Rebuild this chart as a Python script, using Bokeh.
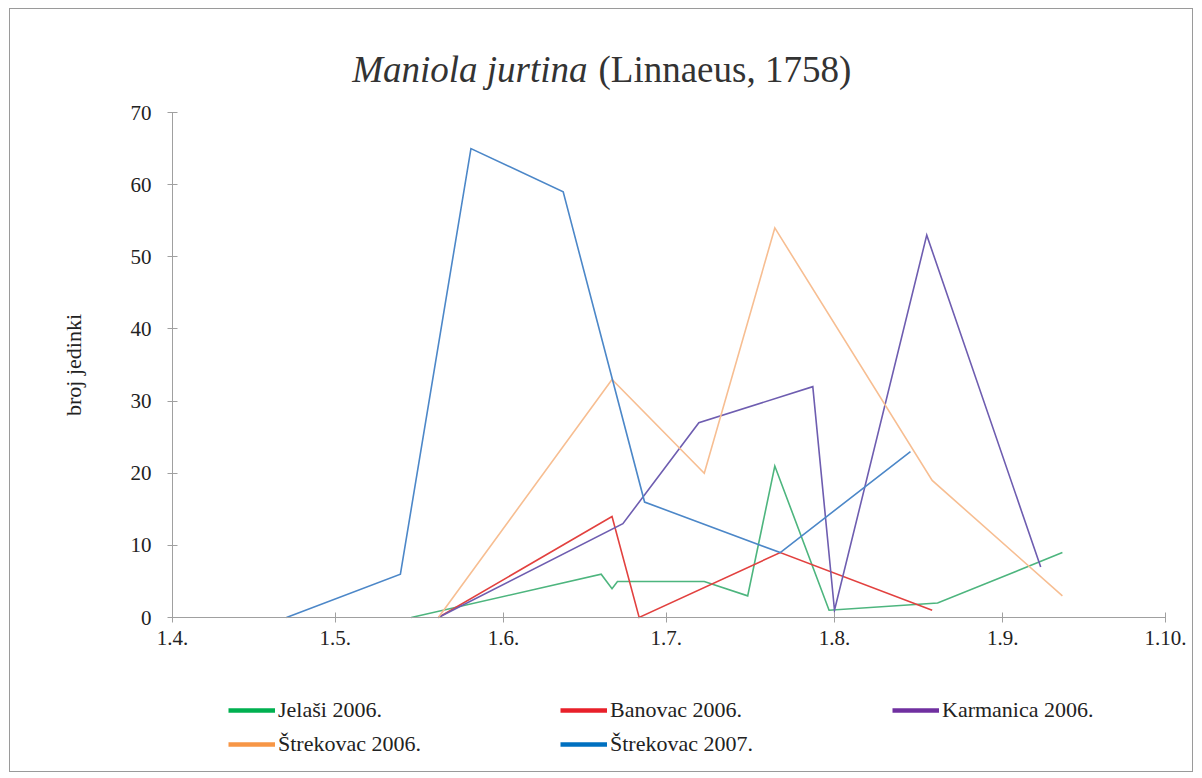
import pandas as pd
from bokeh.plotting import figure
from bokeh.models import (Range1d, FixedTicker, CustomJSTickFormatter, Legend,
                          LegendItem, Label)
from bokeh.embed import file_html
from bokeh.resources import INLINE

# ---------------- data (day-month of sampling, counts) ----------------
YEAR = "2006"  # common calendar year used for plotting season dates

tick_dates = ["04-01", "05-01", "06-01", "07-01", "08-01", "09-01", "10-01"]
y_ticks = [0, 10, 20, 30, 40, 50, 60, 70]

jelasi_dates = ["05-15", "06-19", "06-21", "06-22", "07-08", "07-16", "07-21", "07-31", "08-20", "09-12"]
jelasi_vals = [0, 6, 4, 5, 5, 3, 21, 1, 2, 9]

banovac_dates = ["05-20", "06-21", "06-26", "07-22", "08-19"]
banovac_vals = [0, 14, 0, 9, 1]

karmanica_dates = ["05-20", "06-23", "07-07", "07-28", "08-01", "08-18", "09-08"]
karmanica_vals = [0, 13, 27, 32, 1, 53, 7]

strek06_dates = ["05-20", "06-21", "07-08", "07-21", "08-19", "09-12"]
strek06_vals = [0, 33, 20, 54, 19, 3]

strek07_dates = ["04-22", "05-13", "05-26", "06-12", "06-27", "07-22", "08-15"]
strek07_vals = [0, 6, 65, 59, 16, 9, 23]

series_names = ["Jelaši 2006.", "Banovac 2006.", "Karmanica 2006.",
                "Štrekovac 2006.", "Štrekovac 2007."]
series_dates = [jelasi_dates, banovac_dates, karmanica_dates, strek06_dates, strek07_dates]
series_vals = [jelasi_vals, banovac_vals, karmanica_vals, strek06_vals, strek07_vals]
line_colors = ["#4DB57E", "#E2413F", "#6E5DB0", "#F7BE92", "#4C87C8"]
legend_colors = ["#00B050", "#E8202A", "#7030A0", "#F79646", "#0070C0"]


def to_dt(md_list):
    return pd.to_datetime([f"{YEAR}-{m}" for m in md_list])


def ms(t):
    return t.timestamp() * 1000.0


FONT = "Times"

# layout geometry (page pixels): the frame covers the whole chart box
FRAME_LEFT, FRAME_RIGHT, FRAME_TOP, FRAME_BOTTOM = 10, 1194, 9, 773
AXIS_LEFT_PX, AXIS_RIGHT_PX = 172, 1165   # pixel columns of 1.4. and 1.10.
ZERO_PX, TOP_PX = 617, 112                # pixel rows of values 0 and 70
ppu = (ZERO_PX - TOP_PX) / 70.0
y_start = -(FRAME_BOTTOM - ZERO_PX) / ppu
y_end = 70 + (TOP_PX - FRAME_TOP) / ppu

ticks_dt = to_dt(tick_dates)
x0, x1 = ms(ticks_dt[0]), ms(ticks_dt[-1])
ms_per_px = (x1 - x0) / (AXIS_RIGHT_PX - AXIS_LEFT_PX)
x_start = x0 - (AXIS_LEFT_PX - FRAME_LEFT) * ms_per_px
x_end = x1 + (FRAME_RIGHT - AXIS_RIGHT_PX) * ms_per_px

p = figure(width=1184, height=764, x_axis_type="datetime",
           output_backend="svg", toolbar_location=None,
           x_range=Range1d(x_start, x_end),
           y_range=Range1d(y_start, y_end),
           min_border_left=0, min_border_right=0,
           min_border_top=0, min_border_bottom=0)
p.title.visible = False
p.outline_line_color = None
p.xgrid.visible = False
p.ygrid.visible = False
p.styles = {"border": "1px solid #9a9a9a", "margin": "8px 0px 0px 9px"}

# axes (drawn at fixed data positions, spanning only the data box)
p.xaxis.ticker = FixedTicker(ticks=[ms(t) for t in ticks_dt])
p.xaxis.formatter = CustomJSTickFormatter(code="""
    const d = new Date(tick);
    return d.getUTCDate() + '.' + (d.getUTCMonth() + 1) + '.';
""")
p.xaxis.fixed_location = 0
p.xaxis.bounds = (x0, x1)
p.yaxis.ticker = FixedTicker(ticks=y_ticks)
p.yaxis.fixed_location = x0
p.yaxis.bounds = (0, 70)
for ax in (p.xaxis[0], p.yaxis[0]):
    ax.axis_line_color = "#a0a0a0"
    ax.major_tick_line_color = "#a0a0a0"
    ax.major_tick_in = 5
    ax.major_tick_out = 5
    ax.minor_tick_line_color = None
    ax.major_label_text_font = FONT
    ax.major_label_text_font_size = "21px"
    ax.major_label_text_color = "#222222"
p.xaxis.major_label_standoff = 8
p.yaxis.major_label_standoff = 16
p.yaxis.axis_label = "broj jedinki"
p.yaxis.axis_label_text_font = FONT
p.yaxis.axis_label_text_font_size = "22px"
p.yaxis.axis_label_text_font_style = "normal"
p.yaxis.axis_label_text_color = "#222222"
p.yaxis.axis_label_standoff = 42

# data lines
for d, v, c in zip(series_dates, series_vals, line_colors):
    p.line(to_dt(d), v, line_color=c, line_width=1.6, line_join="miter")

# legend proxies (thick saturated keys, a single undrawn NaN point)
items = []
for name, c in zip(series_names, legend_colors):
    r = p.line(x=[x0], y=[float("nan")], line_color=c, line_width=4.5)
    items.append(LegendItem(label=name, renderers=[r]))

legend = Legend(items=items, location=(228 - FRAME_LEFT, FRAME_BOTTOM - 761),
                orientation="horizontal",
                ncols=3, glyph_width=47, glyph_height=20, label_width=282,
                label_height=34, label_standoff=3, spacing=0, padding=0,
                margin=0, border_line_color=None, background_fill_alpha=0,
                label_text_font=FONT, label_text_font_size="22px",
                label_text_color="#222222")
p.add_layout(legend)

# title (italic species name + normal author), screen units from frame bottom-left
base_y = FRAME_BOTTOM - 69
t1 = Label(x=587 - FRAME_LEFT, y=base_y, x_units="screen", y_units="screen",
           text="Maniola jurtina", text_font=FONT, text_font_size="37px",
           text_font_style="italic", text_align="right",
           text_baseline="alphabetic", text_color="#333333")
t2 = Label(x=598 - FRAME_LEFT, y=base_y, x_units="screen", y_units="screen",
           text="(Linnaeus, 1758)", text_font=FONT, text_font_size="37px",
           text_font_style="normal", text_align="left",
           text_baseline="alphabetic", text_color="#333333")
p.add_layout(t1)
p.add_layout(t2)

open("out.html", "w").write(file_html(p, INLINE))
